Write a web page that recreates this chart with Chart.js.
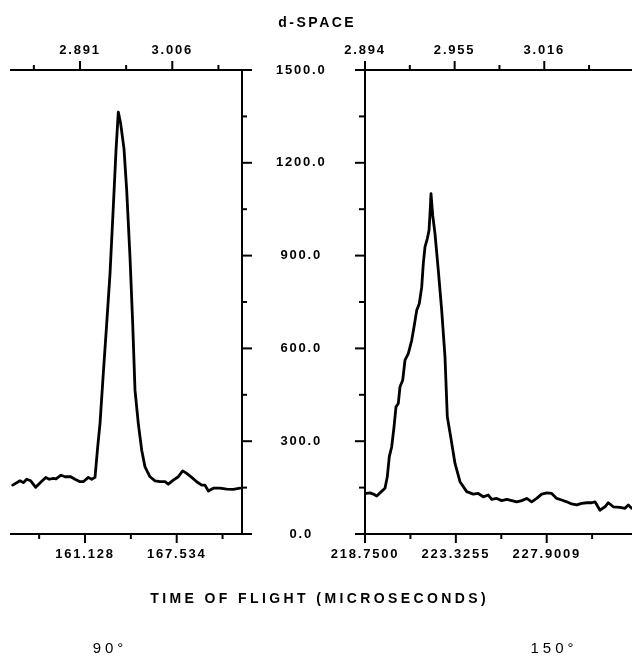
<!DOCTYPE html>
<html><head><meta charset="utf-8">
<script src="https://cdn.jsdelivr.net/npm/chart.js@4.4.1/dist/chart.umd.min.js"></script>
<style>
html,body{margin:0;padding:0;background:#fff;}
#wrap{position:relative;width:632px;height:656px;overflow:hidden;background:#fff;}
canvas{position:absolute;left:0;top:0;}
.lbl{position:absolute;font-family:"Liberation Sans",Arial,sans-serif;color:#000;white-space:nowrap;line-height:1;transform:translateX(-50%);}
</style></head><body>
<div id="wrap">
<canvas id="c90" width="632" height="656"></canvas>
<canvas id="c150" width="632" height="656"></canvas>
<div class="lbl" style="left:316px;top:15px;font-size:14px;font-weight:bold;letter-spacing:2.5px;padding-left:2.5px;">d-SPACE</div>
<div class="lbl" style="left:318px;top:591px;font-size:14px;font-weight:bold;letter-spacing:3.4px;padding-left:3.4px;">TIME OF FLIGHT (MICROSECONDS)</div>
<div class="lbl" style="left:108px;top:640px;font-size:15px;letter-spacing:4px;padding-left:4px;">90°</div>
<div class="lbl" style="left:552px;top:640px;font-size:15px;letter-spacing:4px;padding-left:4px;">150°</div>
</div>
<script>
// ---- data ----
const countMajor = [0, 300, 600, 900, 1200, 1500];
const countLabels = ['0.0', '300.0', '600.0', '900.0', '1200.0', '1500.0'];
const countMinor = [150, 450, 750, 1050, 1350];

const tof90Range = [155.958, 172.096];
const tof90Major = [161.128, 167.534];
const tof90Labels = ['161.128', '167.534'];
const tof90Minor = [157.925, 164.331, 170.737];
const d90Range = [2.805, 3.0929];
const d90Major = [2.891, 3.006];
const d90Labels = ['2.891', '3.006'];
const d90Minor = [2.8335, 2.9485, 3.0635];

const tof150Range = [218.75, 232.197];
const tof150Major = [218.7500, 223.3255, 227.9009];
const tof150Labels = ['218.7500', '223.3255', '227.9009'];
const tof150Minor = [221.0378, 225.6132, 230.1886];
const d150Range = [2.894, 3.0757];
const d150Major = [2.894, 2.955, 3.016];
const d150Labels = ['2.894', '2.955', '3.016'];
const d150Minor = [2.9245, 2.9855, 3.0465];

const tof90 = [156.077,156.587,156.818,157.055,157.335,157.684,158.033,158.383,158.634,158.913,159.102,159.451,159.731,160.129,160.429,160.779,161.009,161.359,161.596,161.827,162.015,162.176,162.406,162.644,162.875,163.105,163.294,163.454,163.622,163.853,164.041,164.272,164.460,164.621,164.852,165.089,165.320,165.669,166.018,166.368,166.717,166.947,167.297,167.646,167.953,168.233,168.582,168.931,169.281,169.511,169.742,170.091,170.559,171.027,171.488,171.956];
const counts90 = [158,172,166,177,172,151,167,183,177,180,178,190,185,185,177,169,169,183,177,183,282,357,519,680,842,1057,1240,1364,1326,1245,1111,895,680,465,357,271,217,185,172,169,169,161,174,185,204,196,183,169,158,158,139,148,148,145,144,148];

const tof150 = [218.800,219.002,219.168,219.339,219.505,219.757,219.873,219.974,220.095,220.211,220.311,220.427,220.513,220.649,220.765,220.931,221.102,221.218,221.354,221.485,221.606,221.686,221.772,221.888,221.973,222.024,222.074,222.160,222.275,222.442,222.613,222.779,222.895,223.066,223.283,223.534,223.872,224.204,224.456,224.708,224.960,225.131,225.383,225.635,225.886,226.138,226.390,226.642,226.894,227.145,227.397,227.649,227.901,228.153,228.405,228.656,228.908,229.160,229.412,229.664,229.916,230.167,230.333,230.585,230.837,231.003,231.255,231.593,231.844,232.011,232.182];
const counts150 = [131,133,129,123,133,148,185,250,282,346,411,422,476,497,562,583,626,669,723,745,798,874,928,955,981,1035,1100,1030,971,852,723,572,379,314,228,169,137,129,131,120,126,112,115,108,112,108,104,108,115,104,115,129,133,131,115,110,104,97,94,99,101,101,104,77,88,101,88,86,83,94,83];

// ---- helpers ----
const FONT = {family: '"Liberation Sans", Arial, sans-serif', size: 13, weight: 'bold'};
const spacingPlugin = {
  id: 'spacing',
  beforeUpdate(c) { c.ctx.letterSpacing = '1.8px'; },
  beforeDraw(c) { c.ctx.letterSpacing = '1.8px'; }
};
function tickPlugin(spec) {
  return {
    id: 'tickMarks',
    afterDraw(chart) {
      const ctx = chart.ctx;
      ctx.save();
      ctx.strokeStyle = '#000';
      ctx.lineWidth = 2;
      spec.forEach(a => {
        const s = chart.scales[a.id];
        const draw = (v, len) => {
          const p = s.getPixelForValue(v);
          ctx.beginPath();
          if (a.side === 'bottom') { ctx.moveTo(p, s.top); ctx.lineTo(p, s.top + len); }
          else if (a.side === 'top') { ctx.moveTo(p, s.bottom); ctx.lineTo(p, s.bottom - len); }
          else if (a.side === 'right') { ctx.moveTo(s.left, p); ctx.lineTo(s.left + len, p); }
          else { ctx.moveTo(s.right, p); ctx.lineTo(s.right - len, p); }
          ctx.stroke();
        };
        a.major.forEach(v => draw(v, a.majorLen));
        a.minor.forEach(v => draw(v, a.minorLen));
      });
      ctx.restore();
    }
  };
}
function axis(position, range, major, labels, size, pad, showLabels, extra) {
  const horiz = position === 'top' || position === 'bottom';
  return Object.assign({
    type: 'linear', position, min: range[0], max: range[1],
    afterBuildTicks: s => { s.ticks = major.map(v => ({value: v})); },
    afterFit: s => { if (horiz) s.height = size; else s.width = size; },
    grid: {display: false, drawTicks: false},
    border: {display: true, color: '#000', width: 2},
    ticks: Object.assign({
      display: showLabels, autoSkip: false, maxRotation: 0, minRotation: 0,
      padding: pad, color: '#000', font: FONT,
      callback: (v, i) => labels[i]
    }, extra || {})
  });
}
function series(xs, ys) {
  return {
    data: xs.map((x, i) => ({x, y: ys[i]})),
    showLine: true, borderColor: '#000', backgroundColor: '#000',
    borderWidth: 2.8, pointRadius: 0, fill: false, tension: 0,
    borderJoinStyle: 'round', borderCapStyle: 'round'
  };
}

// ---- 90 degree panel ----
new Chart(document.getElementById('c90'), {
  type: 'scatter',
  data: {datasets: [series(tof90, counts90)]},
  options: {
    responsive: false, animation: false, events: [],
    layout: {padding: {left: 11, right: 300, top: 40, bottom: 82}},
    plugins: {legend: {display: false}, tooltip: {enabled: false}},
    scales: {
      x: axis('bottom', tof90Range, tof90Major, tof90Labels, 40, 13, true),
      xd: axis('top', d90Range, d90Major, d90Labels, 30, 12, true),
      y: axis('right', [0, 1500], countMajor, countLabels, 90, 34, true, {crossAlign: 'center'})
    }
  },
  plugins: [spacingPlugin, tickPlugin([
    {id: 'x', side: 'bottom', major: tof90Major, minor: tof90Minor, majorLen: 9, minorLen: 5},
    {id: 'xd', side: 'top', major: d90Major, minor: d90Minor, majorLen: 9, minorLen: 5},
    {id: 'y', side: 'right', major: countMajor, minor: countMinor, majorLen: 10, minorLen: 5}
  ])]
});

// ---- 150 degree panel ----
new Chart(document.getElementById('c150'), {
  type: 'scatter',
  data: {datasets: [series(tof150, counts150)]},
  options: {
    responsive: false, animation: false, events: [],
    layout: {padding: {left: 350, right: 0, top: 40, bottom: 82}},
    plugins: {legend: {display: false}, tooltip: {enabled: false}},
    scales: {
      x: axis('bottom', tof150Range, tof150Major, tof150Labels, 40, 13, true),
      xd: axis('top', d150Range, d150Major, d150Labels, 30, 12, true),
      y: axis('left', [0, 1500], countMajor, countLabels, 15, 0, false)
    }
  },
  plugins: [spacingPlugin, tickPlugin([
    {id: 'x', side: 'bottom', major: tof150Major, minor: tof150Minor, majorLen: 9, minorLen: 5},
    {id: 'xd', side: 'top', major: d150Major, minor: d150Minor, majorLen: 9, minorLen: 5},
    {id: 'y', side: 'left', major: countMajor, minor: countMinor, majorLen: 10, minorLen: 6}
  ])]
});
</script>
</body></html>
